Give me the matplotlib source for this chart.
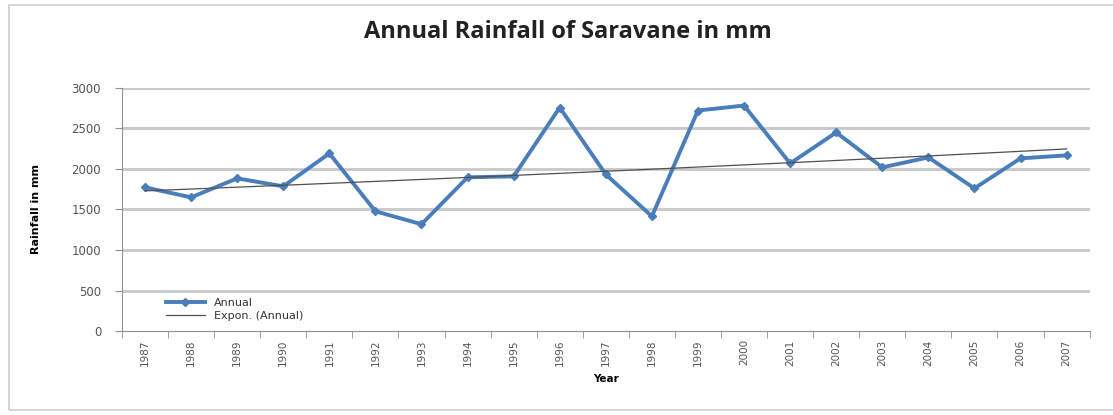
import numpy as np
import matplotlib.pyplot as plt
from matplotlib.patches import Rectangle

# annual rainfall at Saravane (mm)
years = [1987, 1988, 1989, 1990, 1991, 1992, 1993, 1994, 1995, 1996, 1997,
         1998, 1999, 2000, 2001, 2002, 2003, 2004, 2005, 2006, 2007]
rainfall = [1773, 1650, 1884, 1786, 2192, 1478, 1318, 1897, 1909, 2759, 1933,
            1416, 2722, 2783, 2069, 2451, 2020, 2143, 1761, 2131, 2168]
y_ticks = [0, 500, 1000, 1500, 2000, 2500, 3000]

x = np.arange(1, len(years) + 1)
y = np.array(rainfall, dtype=float)

# exponential trendline, like Excel's "Expon." option
b, a = np.polyfit(x, np.log(y), 1)
trend = np.exp(a) * np.exp(b * x)

fig = plt.figure(figsize=(11.13, 4.15), dpi=100)
fig.patches.append(Rectangle((0.008, 0.012), 1.2, 0.976, transform=fig.transFigure,
                             fill=False, edgecolor='#d0d0d0', linewidth=1.2))

ax = fig.add_axes([0.1096, 0.2024, 0.8694, 0.5856])

for t in y_ticks[1:]:
    ax.axhline(t, color='#c8c8c8', linewidth=2, zorder=0)

ax.plot(x, y, color='#4a7ebb', linewidth=2.8, marker='D', markersize=4.5,
        markerfacecolor='#4a7ebb', markeredgecolor='#4a7ebb', label='Annual', zorder=3)
ax.plot(x, trend, color='#505050', linewidth=0.9, label='Expon. (Annual)', zorder=4)

ax.set_xlim(0.5, len(years) + 0.5)
ax.set_ylim(0, 3000)
ax.set_yticks(y_ticks)
ax.set_yticklabels([str(t) for t in y_ticks], fontsize=8.5, color='#555555')
ax.set_xticks(x)
ax.set_xticklabels([str(v) for v in years], rotation=90, fontsize=7.5, color='#555555')
ax.set_xticks(np.arange(0.5, len(years) + 1, 1), minor=True)
ax.tick_params(axis='x', which='major', length=0, pad=6)
ax.tick_params(axis='x', which='minor', length=5, color='#909090', direction='out')
ax.tick_params(axis='y', length=5, color='#909090', pad=10)

for side in ['top', 'right']:
    ax.spines[side].set_visible(False)
ax.spines['left'].set_color('#909090')
ax.spines['bottom'].set_color('#909090')

ax.set_ylabel('Rainfall in mm', fontsize=8, fontweight='bold', labelpad=22,
              family='DejaVu Sans Condensed')
ax.set_xlabel('Year', fontsize=7.5, fontweight='bold', labelpad=6)

fig.text(0.51, 0.922, 'Annual Rainfall of Saravane in mm', ha='center', va='center',
         fontsize=17, fontweight='bold', color='#222222', family='Open Sans')

ax.legend(loc='lower left', bbox_to_anchor=(0.035, 0.0), frameon=False, fontsize=8,
          handlelength=3.5, labelspacing=0.3, labelcolor='#333333')

fig.savefig('out.png', dpi=100)
